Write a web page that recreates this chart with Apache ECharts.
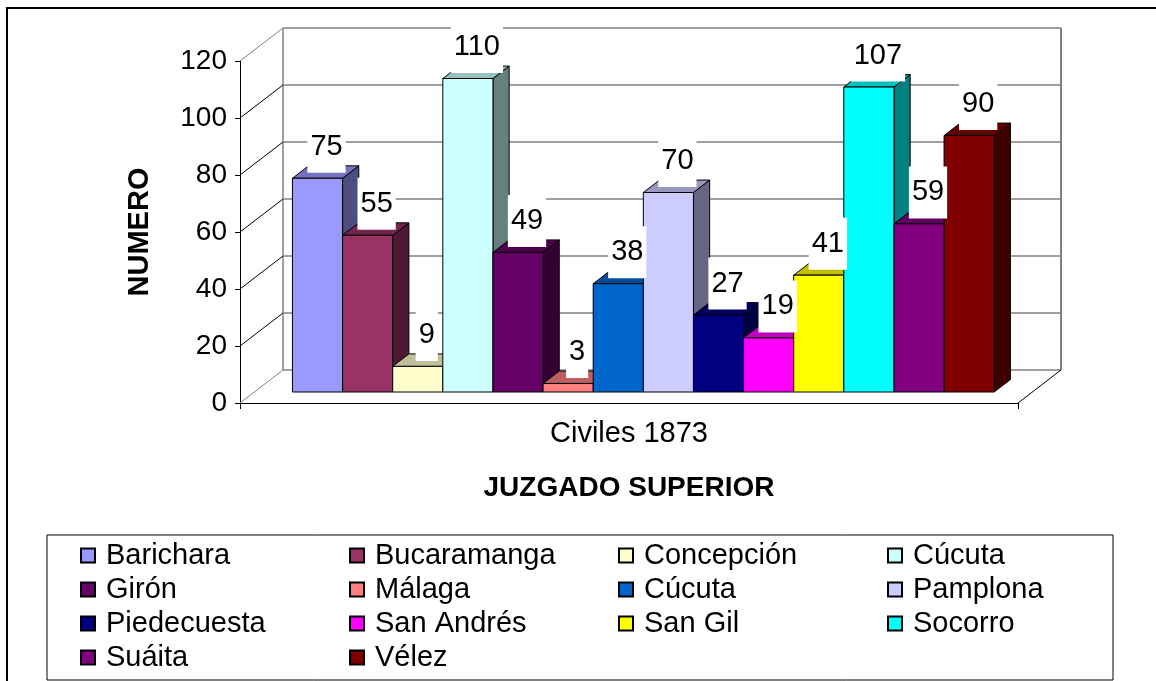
<!DOCTYPE html>
<html>
<head>
<meta charset="utf-8">
<script src="https://cdn.jsdelivr.net/npm/echarts@6/dist/echarts.min.js"></script>
<style>
  html, body { margin: 0; background: #fff; }
  #chart { width: 1156px; height: 681px; }
</style>
</head>
<body>
<div id="chart"></div>
<script>
// datos del gráfico
const categories = ['Civiles 1873']
const names = ['Barichara', 'Bucaramanga', 'Concepción', 'Cúcuta', 'Girón', 'Málaga', 'Cúcuta ', 'Pamplona', 'Piedecuesta', 'San Andrés', 'San Gil', 'Socorro', 'Suáita', 'Vélez']
const values = [75, 55, 9, 110, 49, 3, 38, 70, 27, 19, 41, 107, 59, 90]
const colors = ['#9999FF', '#993366', '#FFFFCC', '#CCFFFF', '#660066', '#FF8080', '#0066CC', '#CCCCFF', '#000080', '#FF00FF', '#FFFF00', '#00FFFF', '#800080', '#800000']
const yTicks = [0, 20, 40, 60, 80, 100, 120]

const FONT = 'Liberation Sans, Arial, sans-serif'
// profundidad de la caja 3D (px)
const DX = 43
const DY = -33
const F1 = 0.333 // cara frontal de las barras
const F2 = 0.71 // cara trasera de las barras
const GROUP = 0.902

function shade(hex, k) {
  const n = parseInt(hex.slice(1), 16)
  const r = Math.round(((n >> 16) & 255) * k)
  const g = Math.round(((n >> 8) & 255) * k)
  const b = Math.round((n & 255) * k)
  return 'rgb(' + r + ',' + g + ',' + b + ')'
}

function barBox(params, api, slot, v) {
  const cs = params.coordSys
  const band = api.size([1, 0])[0]
  const w = band * GROUP / names.length
  const x0 = cs.x + (band - band * GROUP) / 2 + slot * w + DX * F1
  const yb = api.coord([0, 0])[1] + DY * F1
  const yt = api.coord([0, v])[1] + DY * F1
  const ddx = DX * (F2 - F1)
  const ddy = DY * (F2 - F1)
  return { x0, yb, yt, w, ddx, ddy }
}

const chart = echarts.init(document.getElementById('chart'))

const wallSeries = {
  type: 'custom',
  name: 'pared',
  z: 1,
  silent: true,
  data: yTicks.map(v => [0, v]),
  renderItem(params, api) {
    const cs = params.coordSys
    const v = api.value(1)
    const y = api.coord([0, v])[1]
    const edge = v === yTicks[0] || v === yTicks[yTicks.length - 1]
    const children = [
      {
        type: 'line',
        shape: { x1: cs.x, y1: y, x2: cs.x + DX, y2: y + DY },
        style: { stroke: edge ? '#808080' : '#000', lineWidth: 1 }
      },
      {
        type: 'line',
        shape: { x1: cs.x + DX, y1: y + DY, x2: cs.x + cs.width + DX, y2: y + DY },
        style: { stroke: '#808080', lineWidth: 1.5 }
      }
    ]
    if (v === yTicks[0]) {
      const yTop = api.coord([0, yTicks[yTicks.length - 1]])[1]
      children.push(
        {
          type: 'line',
          shape: { x1: cs.x + DX, y1: y + DY, x2: cs.x + DX, y2: yTop + DY },
          style: { stroke: '#808080', lineWidth: 1.5 }
        },
        {
          type: 'line',
          shape: { x1: cs.x + cs.width + DX, y1: y + DY, x2: cs.x + cs.width + DX, y2: yTop + DY },
          style: { stroke: '#808080', lineWidth: 2 }
        },
        {
          type: 'line',
          shape: { x1: cs.x + cs.width, y1: y, x2: cs.x + cs.width + DX, y2: y + DY },
          style: { stroke: '#000', lineWidth: 1 }
        }
      )
    }
    return { type: 'group', children }
  }
}

function makeBarSeries(i) {
  return {
    type: 'custom',
    name: names[i],
    z: 2,
    itemStyle: { color: colors[i], borderColor: '#000', borderWidth: 1 },
    data: [[0, values[i]]],
    renderItem(params, api) {
      const b = barBox(params, api, i, api.value(1))
      const c = colors[i]
      const line = { stroke: '#000', lineWidth: 1, lineJoin: 'round' }
      return {
        type: 'group',
        children: [
          {
            type: 'polygon',
            shape: { points: [[b.x0 + b.w, b.yt], [b.x0 + b.w + b.ddx, b.yt + b.ddy], [b.x0 + b.w + b.ddx, b.yb + b.ddy], [b.x0 + b.w, b.yb]] },
            style: Object.assign({ fill: shade(c, 0.5) }, line)
          },
          {
            type: 'polygon',
            shape: { points: [[b.x0, b.yt], [b.x0 + b.w, b.yt], [b.x0 + b.w + b.ddx, b.yt + b.ddy], [b.x0 + b.ddx, b.yt + b.ddy]] },
            style: Object.assign({ fill: shade(c, 0.75) }, line)
          },
          {
            type: 'rect',
            shape: { x: b.x0, y: b.yt, width: b.w, height: b.yb - b.yt },
            style: Object.assign({ fill: c }, line)
          }
        ]
      }
    }
  }
}

const labelSeries = {
  type: 'custom',
  name: 'etiquetas',
  z: 3,
  silent: true,
  data: values.map(v => [0, v]),
  renderItem(params, api) {
    const v = api.value(1)
    const b = barBox(params, api, params.dataIndex, v)
    return {
      type: 'text',
      style: {
        text: String(v),
        x: b.x0 + b.w / 2 + 9,
        y: b.yt + b.ddy - 19,
        align: 'center',
        verticalAlign: 'middle',
        font: '29px ' + FONT,
        fill: '#000',
        backgroundColor: '#fff',
        padding: [11, 3],
        lineHeight: 30
      }
    }
  }
}

chart.setOption({
  backgroundColor: '#fff',
  animation: false,
  textStyle: { fontFamily: FONT },
  graphic: [
    {
      type: 'rect',
      shape: { x: 7, y: 8, width: 1200, height: 720 },
      style: { fill: 'none', stroke: '#000', lineWidth: 2 },
      z: -10
    },
    {
      type: 'rect',
      shape: { x: 47, y: 535, width: 1066, height: 145 },
      style: { fill: 'none', stroke: '#000', lineWidth: 1 },
      z: -10
    }
  ],
  grid: { left: 240, right: 138, top: 61, bottom: 278 },
  xAxis: {
    type: 'category',
    data: categories,
    name: 'JUZGADO SUPERIOR',
    nameLocation: 'middle',
    nameGap: 71,
    nameTextStyle: { fontSize: 28, fontWeight: 'bold', color: '#000', fontFamily: FONT },
    axisLine: { lineStyle: { color: '#000', width: 1 } },
    axisTick: { show: true, length: 6, lineStyle: { color: '#000' } },
    axisLabel: { fontSize: 29, color: '#000', margin: 16, fontFamily: FONT },
    splitLine: { show: false }
  },
  yAxis: {
    type: 'value',
    min: 0,
    max: 120,
    interval: 20,
    name: 'NUMERO',
    nameLocation: 'middle',
    nameGap: 86,
    nameTextStyle: { fontSize: 29, fontWeight: 'bold', color: '#000', fontFamily: FONT },
    axisLine: { show: true, lineStyle: { color: '#000', width: 1 } },
    axisTick: { show: true, length: 5, lineStyle: { color: '#000' } },
    axisLabel: { fontSize: 28, color: '#000', margin: 13, fontFamily: FONT },
    splitLine: { show: false }
  },
  legend: {
    data: names,
    left: 80,
    top: 541,
    width: 1090,
    padding: 0,
    itemGap: 5,
    itemWidth: 14,
    itemHeight: 14,
    icon: 'rect',
    selectedMode: false,
    formatter: name => '{a|' + name + '}',
    textStyle: {
      color: '#000',
      rich: {
        a: { fontSize: 29, fontFamily: FONT, color: '#000', width: 238, padding: [0, 0, 0, 6], lineHeight: 34 }
      }
    }
  },
  series: [wallSeries].concat(names.map((n, i) => makeBarSeries(i)), [labelSeries])
})
</script>
</body>
</html>
